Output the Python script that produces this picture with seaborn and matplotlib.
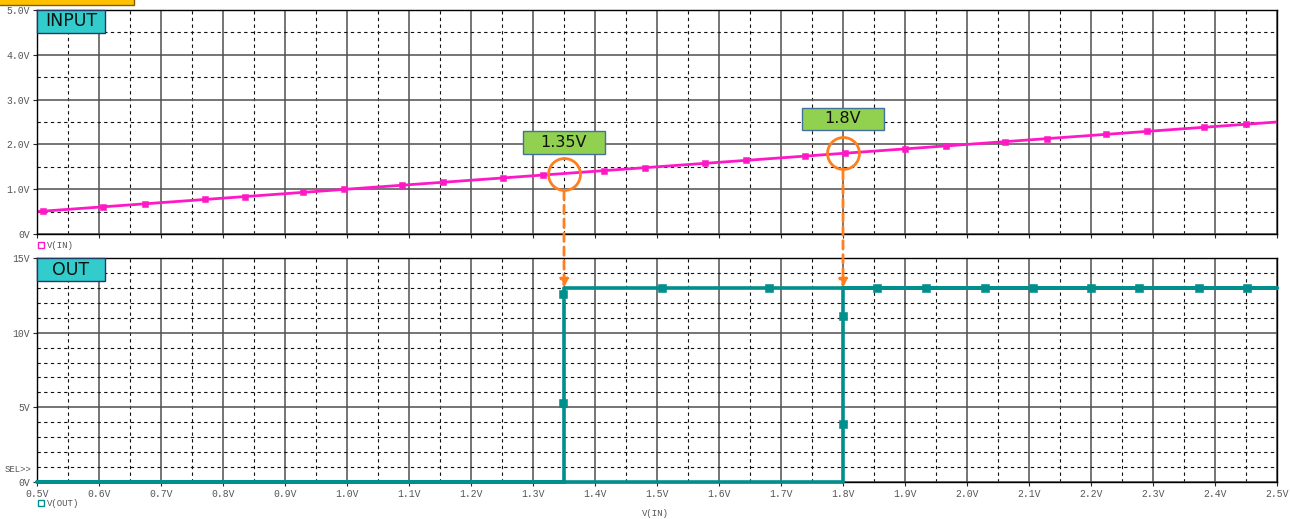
import matplotlib.pyplot as plt
import seaborn as sns
import pandas as pd
from matplotlib.patches import Rectangle, ConnectionPatch
from matplotlib.lines import Line2D
from matplotlib.ticker import MultipleLocator

# V(IN) sweep (plotted against itself) and where the simulator put markers
vin_x = [0.5, 2.5]
vin_mark_x = [0.51, 0.606, 0.674, 0.771, 0.835, 0.929, 0.995, 1.089, 1.155,
              1.252, 1.316, 1.415, 1.48, 1.577, 1.644, 1.739, 1.803, 1.9,
              1.966, 2.061, 2.129, 2.224, 2.29, 2.382, 2.45]

# V(OUT) hysteresis loop: up-sweep then down-sweep
vout_x = [0.5, 1.8, 1.8, 2.5, 1.35, 1.35, 0.5]
vout_y = [0, 0, 13, 13, 13, 0, 0]
vout_mark_x = [1.348, 1.348, 1.8, 1.8, 1.508, 1.68, 1.855, 1.934, 2.029,
               2.106, 2.2, 2.277, 2.374, 2.452]
vout_mark_y = [12.6, 5.3, 11.1, 3.9, 13, 13, 13, 13, 13, 13, 13, 13, 13, 13]

thresholds = [1.35, 1.8]
threshold_labels = ["1.35V", "1.8V"]

x_ticks = [0.5, 0.6, 0.7, 0.8, 0.9, 1.0, 1.1, 1.2, 1.3, 1.4, 1.5, 1.6, 1.7,
           1.8, 1.9, 2.0, 2.1, 2.2, 2.3, 2.4, 2.5]
x_ticklabels = ["0.5V", "0.6V", "0.7V", "0.8V", "0.9V", "1.0V", "1.1V", "1.2V",
                "1.3V", "1.4V", "1.5V", "1.6V", "1.7V", "1.8V", "1.9V", "2.0V",
                "2.1V", "2.2V", "2.3V", "2.4V", "2.5V"]
top_yticks = [0, 1, 2, 3, 4, 5]
top_yticklabels = ["0V", "1.0V", "2.0V", "3.0V", "4.0V", "5.0V"]
bot_yticks = [0, 5, 10, 15]
bot_yticklabels = ["0V", "5V", "10V", "15V"]

pink = "#FF19C6"
teal = "#008F8C"
orange = "#FF7F1E"
mono = "Liberation Mono"

sns.set_style("white")
plt.rcParams["font.family"] = ["DejaVu Sans"]

fig = plt.figure(figsize=(12.9, 5.19), dpi=100)
ax1 = fig.add_axes([37 / 1290, 1 - 234 / 519, 1240 / 1290, 224 / 519])
ax2 = fig.add_axes([37 / 1290, 1 - 482 / 519, 1240 / 1290, 224 / 519])


def style(ax, ymax, ymin, yt, ytl, show_x):
    ax.set_xlim(0.5, 2.5)
    ax.set_ylim(0, ymax)
    ax.xaxis.set_minor_locator(MultipleLocator(0.05))
    ax.yaxis.set_minor_locator(MultipleLocator(ymin))
    ax.set_xticks(x_ticks)
    ax.set_yticks(yt)
    ax.set_yticklabels(ytl, family=mono, fontsize=7, color="#555555")
    if show_x:
        ax.set_xticklabels(x_ticklabels, family=mono, fontsize=7, color="#555555")
    else:
        ax.set_xticklabels([])
    ax.tick_params(which="major", length=3, width=0.8, direction="out",
                   left=True, bottom=True, pad=2)
    ax.tick_params(which="minor", length=0)
    ax.grid(which="major", color="#505050", lw=1.1, ls="-")
    ax.grid(which="minor", color="#111111", lw=0.8, ls=(0, (3, 3)))
    ax.set_axisbelow(True)
    for s in ax.spines.values():
        s.set_color("black")
        s.set_linewidth(1)
    ax.set_xlabel("")
    ax.set_ylabel("")


# top: V(IN)
sns.lineplot(x=vin_x, y=vin_x, ax=ax1, color=pink, lw=2, sort=False, estimator=None)
sns.scatterplot(x=vin_mark_x, y=vin_mark_x, ax=ax1, color=pink, marker="s",
                s=22, edgecolor=pink, zorder=4)
style(ax1, 5, 0.5, top_yticks, top_yticklabels, False)

# bottom: V(OUT)
df_out = pd.DataFrame({"vin": vout_x, "vout": vout_y})
sns.lineplot(data=df_out, x="vin", y="vout", ax=ax2, color=teal, lw=2.6,
             sort=False, estimator=None, zorder=5)
for ln in ax2.lines:
    ln.set_clip_on(False)
sns.scatterplot(x=vout_mark_x, y=vout_mark_y, ax=ax2, color=teal, marker="s",
                s=26, edgecolor=teal, zorder=6)
style(ax2, 15, 1, bot_yticks, bot_yticklabels, True)

# panel name boxes
for ax, name in [(ax1, "INPUT"), (ax2, "OUT")]:
    ax.add_patch(Rectangle((0, 1 - 23 / 224), 68 / 1240, 23 / 224,
                           transform=ax.transAxes, facecolor="#33CCCC",
                           edgecolor="#1F3864", lw=1, zorder=7, clip_on=False))
    ax.text(34 / 1240, 1 - 11.5 / 224, name, transform=ax.transAxes,
            ha="center", va="center", fontsize=12.5, color="#111111", zorder=8)

# threshold markers, labels and arrows
for i, (t, lab) in enumerate(zip(thresholds, threshold_labels)):
    ax1.plot([t], [t], marker="o", ms=23, mfc="none", mec=orange, mew=2, zorder=6)
    yc = t + 0.69 + i * 0.08
    ax1.add_patch(Rectangle((t - 0.066, yc - 0.25), 0.132, 0.5,
                            facecolor="#92D050", edgecolor="#41719C", lw=1, zorder=6))
    ax1.text(t, yc, lab, ha="center", va="center", fontsize=11.5,
             color="#111111", zorder=7)
    con = ConnectionPatch(xyA=(t, t - 0.40), coordsA=ax1.transData,
                          xyB=(t, 13.0), coordsB=ax2.transData,
                          arrowstyle="-|>", mutation_scale=12, color=orange,
                          lw=2, ls=(0, (3, 2)), zorder=8)
    fig.add_artist(con)

# legend-like trace names and other labels
fig.add_artist(Line2D([41 / 1290], [1 - 245 / 519], marker="s", ms=4.5,
                      mfc="white", mec=pink, mew=1, transform=fig.transFigure))
fig.text(47 / 1290, 1 - 245 / 519, "V(IN)", family=mono, fontsize=6.5,
         color="#555555", va="center")
fig.add_artist(Line2D([41 / 1290], [1 - 503 / 519], marker="s", ms=4.5,
                      mfc="white", mec=teal, mew=1, transform=fig.transFigure))
fig.text(47 / 1290, 1 - 503 / 519, "V(OUT)", family=mono, fontsize=6.5,
         color="#555555", va="center")
fig.text(5 / 1290, 1 - 469 / 519, "SEL>>", family=mono, fontsize=6.5,
         color="#555555", va="center")
fig.text(655 / 1290, 1 - 514 / 519, "V(IN)", family=mono, fontsize=6.5,
         color="#555555", ha="center", va="center")

# partial toolbar box peeking in at top-left
fig.add_artist(Rectangle((-0.01, 1 - 5 / 519), 147 / 1290, 10 / 519,
                         transform=fig.transFigure, facecolor="#FFC000",
                         edgecolor="#7F6000", lw=1))

fig.savefig("out.png", dpi=100)
